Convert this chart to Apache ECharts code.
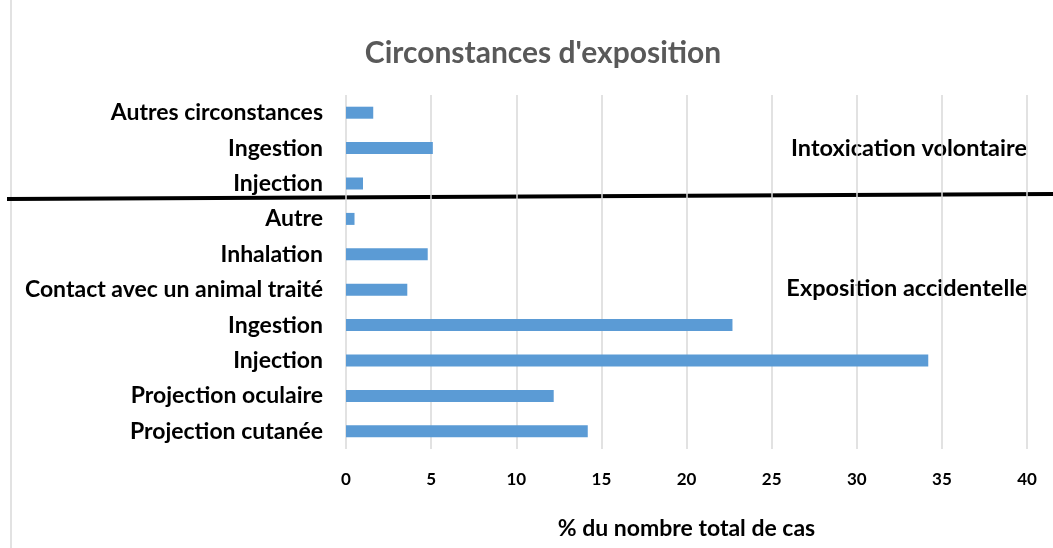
<!DOCTYPE html>
<html>
<head>
<meta charset="utf-8">
<script src="https://cdn.jsdelivr.net/npm/echarts@6/dist/echarts.min.js"></script>
<style>
  html, body { margin: 0; padding: 0; background: #fff; }
  #chart { width: 1053px; height: 548px; }
</style>
</head>
<body>
<div id="chart"></div>
<script>
// categories, bottom to top
var categories = [
  'Projection cutanée',
  'Projection oculaire',
  'Injection',
  'Ingestion',
  'Contact avec un animal traité',
  'Inhalation',
  'Autre',
  'Injection ',
  'Ingestion ',
  'Autres circonstances'
];
var values = [14.2, 12.2, 34.2, 22.7, 3.6, 4.8, 0.5, 1.0, 5.1, 1.6];
var xTicks = [0, 5, 10, 15, 20, 25, 30, 35, 40];

var font = 'Lato, Calibri, "Open Sans", sans-serif';

var myChart = echarts.init(document.getElementById('chart'));

var option = {
  animation: false,
  backgroundColor: '#fff',
  title: {
    text: "Circonstances d'exposition",
    left: 538,
    textAlign: 'center',
    top: 33,
    textStyle: { fontFamily: font, fontSize: 30, fontWeight: 'bold', color: '#595959' }
  },
  grid: { left: 346, right: 26, top: 95, bottom: 99 },
  xAxis: {
    type: 'value',
    min: xTicks[0],
    max: xTicks[xTicks.length - 1],
    interval: 5,
    name: '% du nombre total de cas',
    nameLocation: 'middle',
    nameGap: 68,
    nameTextStyle: { fontFamily: font, fontSize: 23, fontWeight: 'bold', color: '#000' },
    axisLine: { show: false },
    axisTick: { show: false },
    axisLabel: { margin: 22, fontFamily: font, fontSize: 17, fontWeight: 'bold', color: '#000' },
    splitLine: { show: true, lineStyle: { color: '#d9d9d9', width: 1.5 } }
  },
  yAxis: {
    type: 'category',
    data: categories,
    axisLine: { show: false },
    axisTick: { show: false },
    axisLabel: {
      margin: 23,
      fontFamily: font, fontSize: 23, fontWeight: 'bold', color: '#000',
      formatter: function (v) { return v.trim(); }
    }
  },
  series: [{
    type: 'bar',
    data: values,
    barWidth: 12,
    itemStyle: { color: '#5b9bd5' }
  }],
  graphic: [
    { type: 'line', shape: { x1: 11, y1: 0, x2: 11, y2: 548 }, style: { stroke: '#d9d9d9', lineWidth: 1.5 } },
    { type: 'line', shape: { x1: 7, y1: 199, x2: 1053, y2: 194 }, style: { stroke: '#000', lineWidth: 4 } },
    { type: 'text', x: 909, y: 148, style: { text: 'Intoxication volontaire', align: 'center', verticalAlign: 'middle', fontFamily: font, fontSize: 23.5, fontWeight: 'bold', fill: '#000' } },
    { type: 'text', x: 907, y: 288, style: { text: 'Exposition accidentelle', align: 'center', verticalAlign: 'middle', fontFamily: font, fontSize: 23.5, fontWeight: 'bold', fill: '#000' } }
  ]
};

myChart.setOption(option);
</script>
</body>
</html>
